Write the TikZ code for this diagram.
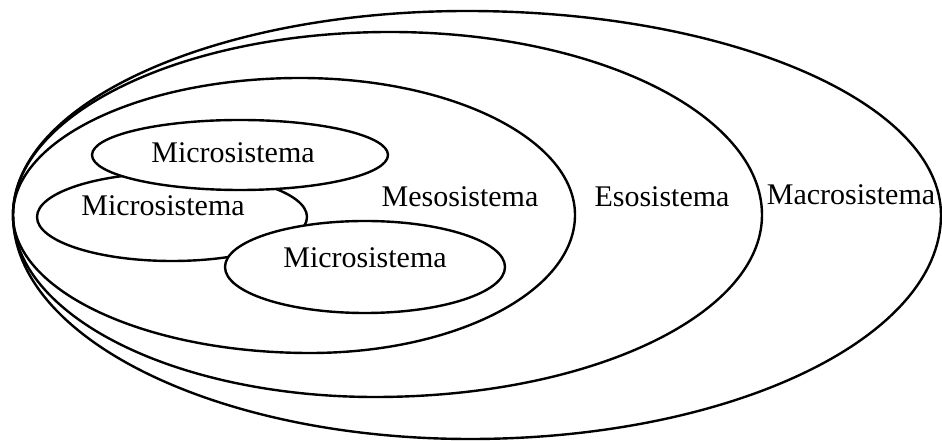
\documentclass[tikz,border=0pt]{standalone}
\usepackage{fontspec}
\setmainfont{Liberation Serif}
\begin{document}
\begin{tikzpicture}[x=1pt,y=1pt,
  ring/.style={draw=black, line width=2.4pt},
  micro/.style={draw=black, line width=2.4pt, fill=white},
  lbl/.style={anchor=base, inner sep=0pt, font=\fontsize{30}{35}\selectfont}]
\useasboundingbox (0,0) rectangle (942,441);
% Macrosistema
\draw[ring] (13,226) arc[start angle=180, end angle=90, x radius=454, y radius=204]
  arc[start angle=90, end angle=0, x radius=474, y radius=204]
  arc[start angle=0, end angle=-90, x radius=471, y radius=224]
  arc[start angle=270, end angle=180, x radius=457, y radius=224] -- cycle;
% Esosistema
\draw[ring] (13,226) arc[start angle=180, end angle=90, x radius=377, y radius=183]
  arc[start angle=90, end angle=0, x radius=372, y radius=183]
  arc[start angle=0, end angle=-90, x radius=387, y radius=182]
  arc[start angle=270, end angle=180, x radius=362, y radius=182] -- cycle;
% Mesosistema
\draw[ring] (13,226) arc[start angle=180, end angle=90, x radius=287, y radius=137]
  arc[start angle=90, end angle=0, x radius=275, y radius=137]
  arc[start angle=0, end angle=-90, x radius=265, y radius=138]
  arc[start angle=270, end angle=180, x radius=297, y radius=138] -- cycle;
% Microsistemas
\draw[micro] (172,224) ellipse[x radius=135, y radius=44];
\draw[micro] (240,286) ellipse[x radius=148, y radius=35];
\draw[micro] (365,174) ellipse[x radius=140, y radius=46];
% labels
\node[lbl] (m1) at (233,278) {Microsistema};
\node[lbl] (m2) at (163,225) {Microsistema};
\node[lbl] (m3) at (365,173) {Microsistema};
\node[lbl] (meso) at (460,234) {Mesosistema};
\node[lbl] (eso) at (662,234) {Esosistema};
\node[lbl] (macro) at (851,236) {Macrosistema};
\end{tikzpicture}
\end{document}
